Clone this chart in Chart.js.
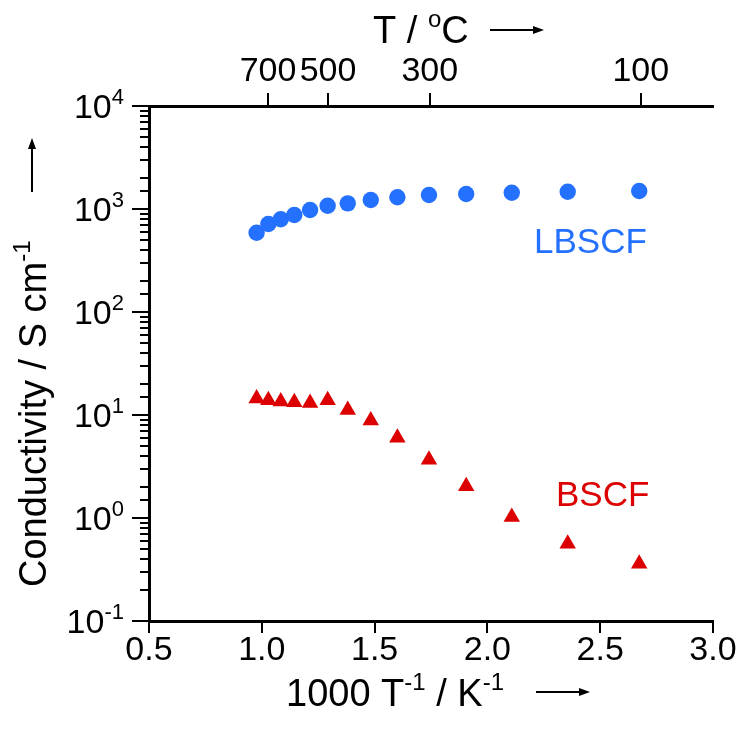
<!DOCTYPE html>
<html>
<head>
<meta charset="utf-8">
<script src="https://cdn.jsdelivr.net/npm/chart.js@4.4.0/dist/chart.umd.min.js"></script>
<style>
  html, body { margin: 0; padding: 0; background: #fff; }
  canvas { display: block; }
</style>
</head>
<body>
<canvas id="chart" width="738" height="733"></canvas>
<script>
/* global Chart */

const FONT = "'Liberation Sans', Arial, sans-serif";
const BLUE = '#2470ff';
const RED  = '#dd0000';

// 1000/T in K^-1 (750 ... 100 degC)
const invT  = [0.977, 1.029, 1.084, 1.144, 1.214, 1.292, 1.381, 1.483, 1.601, 1.741, 1.906, 2.108, 2.356, 2.673];
// conductivity, S/cm
const lbscf = [589, 714, 794, 875, 977, 1077, 1135, 1222, 1300, 1368, 1400, 1440, 1472, 1496];
const bscf  = [14.5, 13.9, 13.5, 13.3, 13.1, 13.9, 11.2, 8.86, 6.01, 3.67, 2.03, 1.02, 0.562, 0.360];

const xTicks    = [0.5, 1.0, 1.5, 2.0, 2.5, 3.0];
const topTempC  = [700, 500, 300, 100];
const yMin = 0.1, yMax = 10000;

const toPoints = ys => invT.map((x, i) => ({ x, y: ys[i] }));

// y axis ticks, labels with superscripts, and axis titles
const decorations = {
  id: 'decorations',
  afterDraw(chart) {
    const ctx = chart.ctx;
    const y = chart.scales.y;
    const left = chart.chartArea.left;
    ctx.save();
    ctx.strokeStyle = '#000';
    ctx.fillStyle = '#000';
    ctx.lineWidth = 2;

    y.ticks.forEach(t => {
      const py = Math.round(y.getPixelForValue(t.value));
      const e = Math.log10(t.value);
      const major = Math.abs(e - Math.round(e)) < 1e-6;
      const len = major ? 17 : 9;
      ctx.beginPath();
      ctx.moveTo(left - len, py);
      ctx.lineTo(left, py);
      ctx.stroke();
      if (major) supText(ctx, '10', String(Math.round(e)), 124, py + 12, 34);
    });

    // bottom title
    supLine(ctx, [['1000 T', 0], ['-1', 1], [' / K', 0], ['-1', 1]], 286, 706, 38);
    arrow(ctx, 536, 692, 590, 692);

    // top title
    supLine(ctx, [['T / ', 0], ['o', 1], ['C', 0]], 373, 43, 38);
    arrow(ctx, 490, 30, 544, 30);

    // left title, rotated
    ctx.save();
    ctx.translate(46, 587);
    ctx.rotate(-Math.PI / 2);
    supLine(ctx, [['Conductivity / S cm', 0], ['-1', 1]], 0, 0, 38);
    ctx.restore();
    arrow(ctx, 32, 192, 32, 138);

    // series labels
    ctx.font = '35px ' + FONT;
    ctx.textAlign = 'left';
    ctx.textBaseline = 'alphabetic';
    ctx.fillStyle = BLUE;
    ctx.fillText('LBSCF', 534, 253);
    ctx.fillStyle = RED;
    ctx.fillText('BSCF', 556, 506);
    ctx.restore();
  }
};

// "10" with a raised exponent, right-aligned at x
function supText(ctx, base, sup, x, baseline, size) {
  ctx.textBaseline = 'alphabetic';
  ctx.textAlign = 'left';
  const small = Math.round(size * 0.65);
  ctx.font = size + 'px ' + FONT;
  const wb = ctx.measureText(base).width;
  ctx.font = small + 'px ' + FONT;
  const ws = ctx.measureText(sup).width;
  const x0 = x - wb - ws;
  ctx.font = size + 'px ' + FONT;
  ctx.fillText(base, x0, baseline);
  ctx.font = small + 'px ' + FONT;
  ctx.fillText(sup, x0 + wb, baseline - size * 0.42);
}

function supLine(ctx, parts, x, baseline, size) {
  ctx.textBaseline = 'alphabetic';
  ctx.textAlign = 'left';
  let cx = x;
  parts.forEach(([s, isSup]) => {
    const fs = isSup ? Math.round(size * 0.62) : size;
    ctx.font = fs + 'px ' + FONT;
    ctx.fillText(s, cx, isSup ? baseline - size * 0.42 : baseline);
    cx += ctx.measureText(s).width;
  });
}

function arrow(ctx, x1, y1, x2, y2) {
  const a = Math.atan2(y2 - y1, x2 - x1);
  const c = Math.cos(a), s = Math.sin(a);
  ctx.save();
  ctx.lineWidth = 2;
  ctx.beginPath();
  ctx.moveTo(x1, y1);
  ctx.lineTo(x2 - 6 * c, y2 - 6 * s);
  ctx.stroke();
  ctx.beginPath();
  ctx.moveTo(x2, y2);
  ctx.lineTo(x2 - 11 * c + 4 * s, y2 - 11 * s - 4 * c);
  ctx.lineTo(x2 - 11 * c - 4 * s, y2 - 11 * s + 4 * c);
  ctx.closePath();
  ctx.fill();
  ctx.restore();
}

new Chart(document.getElementById('chart'), {
  type: 'scatter',
  data: {
    datasets: [
      {
        label: 'LBSCF',
        data: toPoints(lbscf),
        pointStyle: 'circle',
        pointRadius: 8.2,
        backgroundColor: BLUE,
        borderColor: BLUE,
        borderWidth: 0,
      },
      {
        label: 'BSCF',
        data: toPoints(bscf),
        pointStyle: 'triangle',
        pointRadius: 9.5,
        backgroundColor: RED,
        borderColor: RED,
        borderWidth: 0,
      },
    ],
  },
  options: {
    responsive: false,
    animation: false,
    devicePixelRatio: 1,
    layout: { padding: { left: 0, right: 25, top: 0, bottom: 0 } },
    plugins: {
      legend: { display: false },
      tooltip: { enabled: false },
    },
    scales: {
      x: {
        type: 'linear',
        position: 'bottom',
        min: 0.5,
        max: 3.0,
        afterBuildTicks: s => { s.ticks = xTicks.map(v => ({ value: v })); },
        afterFit: s => { s.height = 112; s.paddingLeft = 0; s.paddingRight = 0; },
        ticks: {
          autoSkip: false,
          maxRotation: 0,
          color: '#000',
          font: { family: FONT, size: 34, lineHeight: 1 },
          padding: 1,
          callback: v => v.toFixed(1),
        },
        grid: { drawOnChartArea: false, tickLength: 12, color: '#000', lineWidth: 2 },
        border: { color: '#000', width: 3 },
      },
      x2: {
        type: 'linear',
        position: 'top',
        min: 0.5,
        max: 3.0,
        afterBuildTicks: s => { s.ticks = topTempC.map(t => ({ value: 1000 / (t + 273.15) })); },
        afterFit: s => { s.height = 106; s.paddingLeft = 0; s.paddingRight = 0; },
        ticks: {
          autoSkip: false,
          maxRotation: 0,
          color: '#000',
          font: { family: FONT, size: 34, lineHeight: 1 },
          padding: 4,
          callback: v => String(Math.round(1000 / v - 273.15)),
        },
        grid: { drawOnChartArea: false, tickLength: 13, color: '#000', lineWidth: 2 },
        border: { color: '#000', width: 3 },
      },
      y: {
        type: 'logarithmic',
        position: 'left',
        min: yMin,
        max: yMax,
        afterFit: s => { s.width = 149; },
        ticks: { display: false },
        grid: { display: false },
        border: { color: '#000', width: 3 },
      },
    },
  },
  plugins: [decorations],
});
</script>
</body>
</html>
